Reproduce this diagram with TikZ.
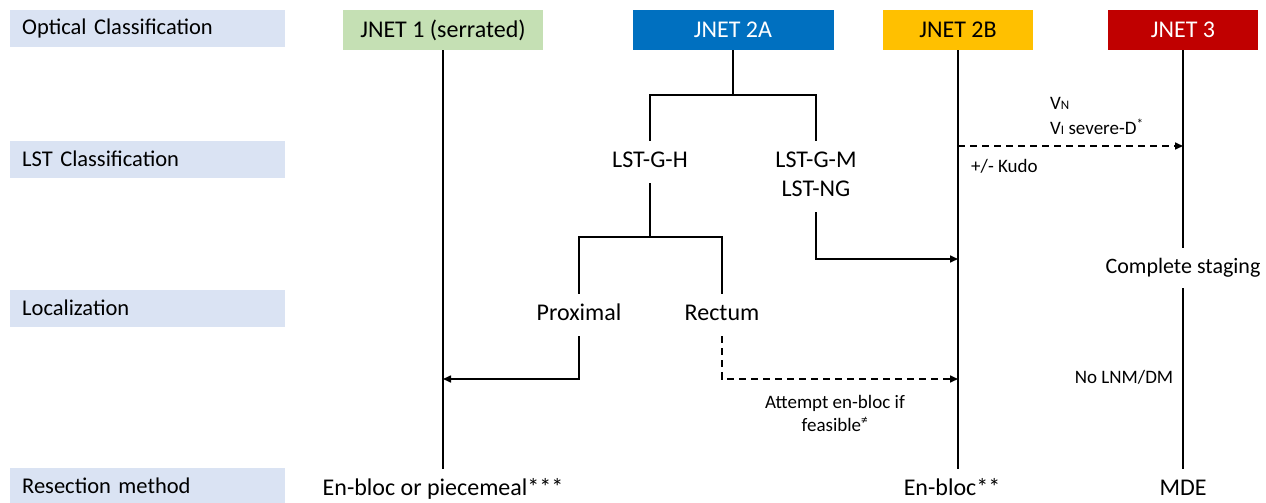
\documentclass[tikz,border=0pt]{standalone}
\usepackage{fontspec}
\setmainfont{Carlito}
\usetikzlibrary{arrows.meta}
\definecolor{lblfill}{HTML}{DAE3F3}
\definecolor{jgreen}{HTML}{C5E0B4}
\definecolor{jblue}{HTML}{0070C0}
\definecolor{jyellow}{HTML}{FFC000}
\definecolor{jred}{HTML}{C00000}
\begin{document}
\begin{tikzpicture}[x=1pt,y=-1pt,
  every node/.style={inner sep=0pt},
  lblbox/.style={fill=lblfill, anchor=west, minimum height=37pt, text width=251pt, inner xsep=12pt, align=left, font=\fontsize{22.5}{27}\selectfont},
  jbox/.style={minimum height=40pt, font=\fontsize{24}{29}\selectfont},
  flow/.style={font=\fontsize{24}{29}\selectfont, text height=15pt, text depth=5pt, inner ysep=11pt},
  small/.style={font=\fontsize{19}{23}\selectfont},
  conn/.style={line width=1.6pt},
  arr/.style={conn, -{Triangle[length=8pt,width=7pt]}},
  dashconn/.style={dash pattern=on 7pt off 5pt}
]
\useasboundingbox (0,0) rectangle (1266,503);

% row labels
\node[lblbox] (l1) at (10,28.5) {Optical Classification};
\node[lblbox] (l2) at (10,159) {LST Classification};
\node[lblbox] (l3) at (10,308) {Localization};
\node[lblbox] (l4) at (10,486) {Resection method};

% JNET boxes
\node[jbox, fill=jgreen, minimum width=200pt] (j1) at (443,30) {JNET 1 (serrated)};
\node[jbox, fill=jblue, text=white, minimum width=201pt] (j2a) at (733,30) {JNET 2A};
\node[jbox, fill=jyellow, minimum width=150pt] (j2b) at (958,30) {JNET 2B};
\node[jbox, fill=jred, text=white, minimum width=150pt] (j3) at (1183,30) {JNET 3};

% flow texts
\node[flow] (lstgh) at (650,162) {LST-G-H};
\node[flow] (lstgm) at (816,162) {LST-G-M};
\node[flow] (lstng) at (816,191) {LST-NG};
\node[flow] (prox) at (579,315) {Proximal};
\node[flow] (rect) at (722,315) {Rectum};
\node[flow, font=\fontsize{22}{26}\selectfont, inner ysep=10pt] (cs) at (1183,268) {Complete staging};

% bottom
\node[flow] (res1) at (443,490) {En-bloc or piecemeal***};
\node[flow] (res2) at (952,490) {En-bloc**};
\node[flow] (res3) at (1183,490) {MDE};

% small labels
\node[small, anchor=west] (vn) at (1050,103) {V{\fontsize{13}{13}\selectfont N}};
\node[small, anchor=west] (vi) at (1050,127) {V{\fontsize{13}{13}\selectfont I} severe-D\textsuperscript{*}};
\node[small, anchor=west] (kudo) at (971,166) {+/- Kudo};
\node[small, align=center, font=\fontsize{19}{23}\selectfont] (att) at (835,413) {Attempt en-bloc if\\feasible\textsuperscript{≠}};
\node[small] (nolnm) at (1124,377) {No LNM/DM};

% helper coordinates
\coordinate (t1) at (733,95);
\coordinate (t2) at (650,237);
\coordinate (m1) at (443,379);
\coordinate (m2) at (958,379);
\coordinate (m3) at (958,259);
\coordinate (m4) at (958,146);
\coordinate (m5) at (1183,146);

% connectors
\draw[conn] (j1.south) -- (res1.north);
\draw[conn] (j2a.south) -- (t1);
\draw[conn] (lstgh.north) |- (t1) -| (lstgm.north);
\draw[conn] (lstgh.south) -- (t2);
\draw[conn] (prox.north) |- (t2) -| (rect.north);
\draw[arr] (prox.south) |- (m1);
\draw[arr, dashconn] (rect.south) |- (m2);
\draw[arr] (lstng.south) |- (m3);
\draw[conn] (j2b.south) -- (j2b.south |- res2.north);
\draw[arr, dashconn] (m4) -- (m5);
\draw[conn] (j3.south) -- (cs.north);
\draw[conn] (cs.south) -- (res3.north);
\end{tikzpicture}
\end{document}
